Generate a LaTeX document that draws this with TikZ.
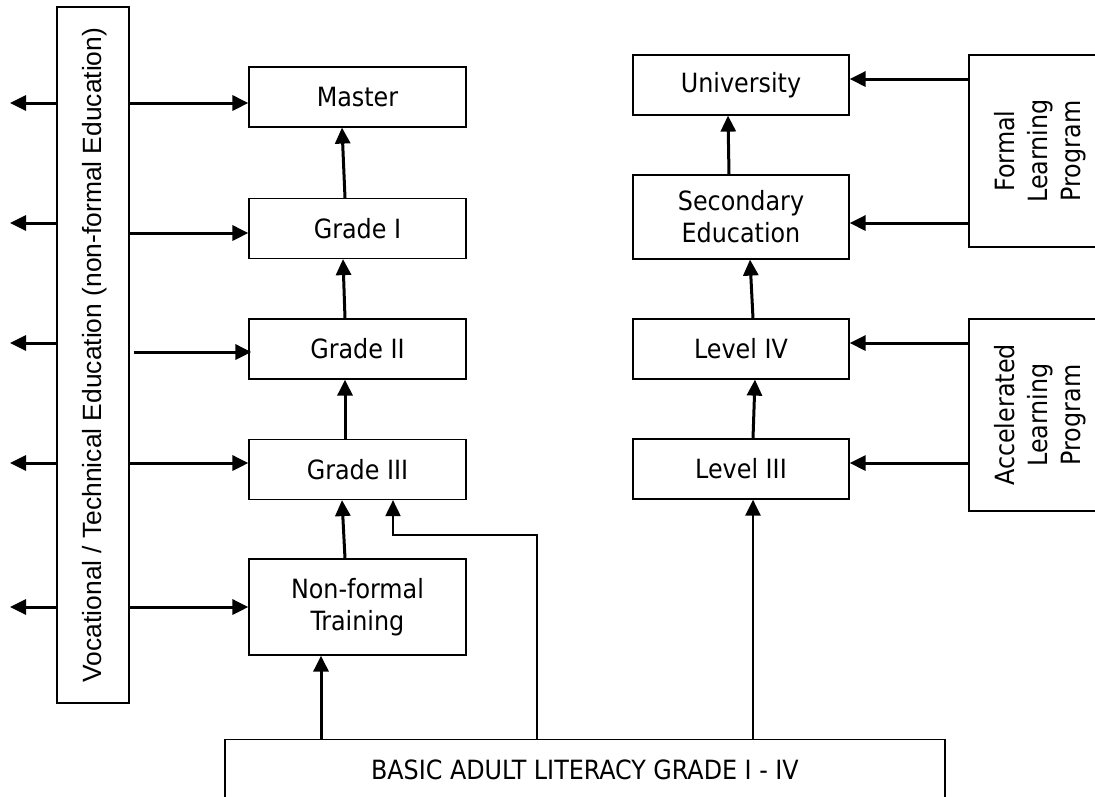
\documentclass[tikz,border=0pt]{standalone}
\usepackage{fontspec}
\usetikzlibrary{arrows.meta}
\newfontfamily\boxfont{DejaVu Sans Condensed}
\newfontfamily\vocfont{Liberation Sans}
\begin{document}
\begin{tikzpicture}[x=1pt, y=-1pt, >={Triangle[length=16pt,width=15pt]},
    box/.style={draw, line width=1.2pt, inner sep=0pt, align=center,
        font=\boxfont\fontsize{26.5}{32}\selectfont},
    midbox/.style={box, minimum width=217pt, minimum height=60pt},
    sidetext/.style={rotate=90, align=center, font=\boxfont\fontsize{26.5}{33}\selectfont},
    arr/.style={->, line width=3pt}]
    \useasboundingbox (0,0) rectangle (1095,796);
    % Vocational column
    \node[box, minimum width=72pt, minimum height=696pt,
        label={[rotate=90, xshift=0pt, yshift=-2pt, font=\vocfont\fontsize{26.4}{32}\selectfont]center:Vocational / Technical Education (non-formal Education)}]
        (voc) at (93,355) {};
    % Middle column
    \node[midbox] (master) at (357.5,97) {Master};
    \node[midbox] (gradeI) at (357.5,228.5) {Grade I};
    \node[midbox] (gradeII) at (357.5,349) {Grade II};
    \node[midbox] (gradeIII) at (357.5,469.5) {Grade III};
    \node[midbox, minimum height=96pt] (nonformal) at (357.5,607) {Non-formal\\Training};
    % Right column
    \node[midbox, minimum width=216pt] (univ) at (741,85) {University};
    \node[midbox, minimum width=216pt, minimum height=84pt] (secondary) at (741,217) {Secondary\\Education};
    \node[midbox, minimum width=216pt] (levelIV) at (741,349) {Level IV};
    \node[midbox, minimum width=216pt] (levelIII) at (741,469) {Level III};
    % Programs
    \node[box, minimum width=142pt, minimum height=192pt,
        label={[sidetext]center:Formal\\Learning\\Program}] (formal) at (1040,151) {};
    \node[box, minimum width=142pt, minimum height=192pt,
        label={[sidetext]center:Accelerated\\Learning\\Program}] (accel) at (1040,415) {};
    % Basic literacy
    \node[box, minimum width=720pt, minimum height=60pt, anchor=north] (basic) at (585,739)
        {BASIC ADULT LITERACY GRADE I - IV};
    % Arrows out of the vocational column
    \foreach \y [count=\i] in {103,223,343,463,607} {
        \coordinate (out\i) at (10,\y);
        \draw[arr] (voc.west |- out\i) -- (out\i);
    }
    \draw[arr] (voc.east |- 0,103) -- (master.west |- 0,103);
    \draw[arr] (voc.east |- 0,233) -- (gradeI.west |- 0,233);
    \draw[arr] ([xshift=4pt]voc.east |- 0,352) -- ([xshift=3pt]gradeII.west |- 0,352);
    \draw[arr] (voc.east |- 0,463) -- (gradeIII.west |- 0,463);
    \draw[arr] (voc.east |- 0,607) -- (nonformal.west |- 0,607);
    % Up the middle column
    \draw[arr] ([xshift=-12.5pt]gradeI.north) -- ([xshift=-15.5pt]master.south);
    \draw[arr] ([xshift=-12.5pt]gradeII.north) -- ([xshift=-14.5pt]gradeI.south);
    \draw[arr] ([xshift=-12.5pt]gradeIII.north) -- ([xshift=-12.5pt]gradeII.south);
    \draw[arr] ([xshift=-12.5pt]nonformal.north) -- ([xshift=-15.5pt]gradeIII.south);
    \draw[arr] (basic.north -| 321,0) -- (nonformal.south -| 321,0);
    \draw[->, line width=2pt] (basic.north -| 537,0) |- (393,535) -- (gradeIII.south -| 393,0);
    % Up the right column
    \draw[->, line width=2.5pt] (basic.north -| 753,0) -- (levelIII.south -| 753,0);
    \draw[arr] ([xshift=12pt]levelIII.north) -- ([xshift=14pt]levelIV.south);
    \draw[arr] ([xshift=12pt]levelIV.north) -- ([xshift=9pt]secondary.south);
    \draw[arr] ([xshift=-12pt]secondary.north) -- ([xshift=-13pt]univ.south);
    % Programs into the right column
    \draw[arr] (formal.west |- 0,79) -- (univ.east |- 0,79);
    \draw[arr] (formal.west |- 0,223) -- (secondary.east |- 0,223);
    \draw[arr] (accel.west |- 0,343) -- (levelIV.east |- 0,343);
    \draw[arr] (accel.west |- 0,463) -- (levelIII.east |- 0,463);
\end{tikzpicture}
\end{document}
